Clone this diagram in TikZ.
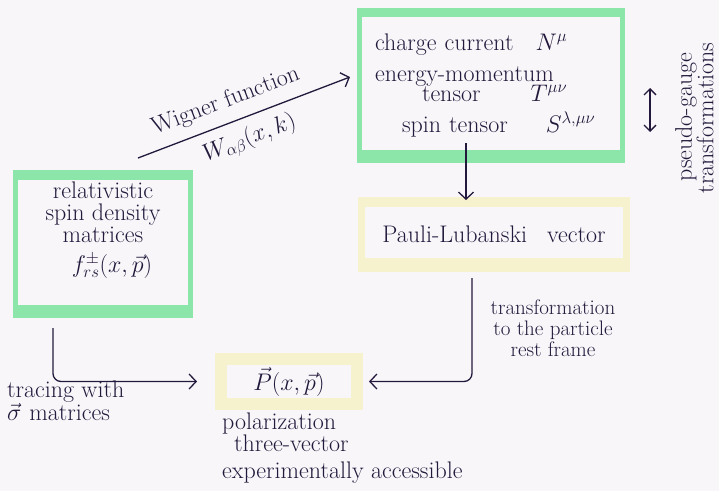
\RequirePackage{fix-cm}
\documentclass[tikz,border=0pt]{standalone}
\usetikzlibrary{arrows.meta}
\definecolor{mgreen}{RGB}{140,230,170}
\definecolor{myellow}{RGB}{245,242,205}
\definecolor{ink}{RGB}{35,25,60}
\definecolor{paper}{RGB}{248,246,249}
\begin{document}
\begin{tikzpicture}[x=1pt,y=-1pt,
  txt/.style={text=ink, inner sep=0pt, font=\fontsize{24}{24}\selectfont},
  smalltxt/.style={text=ink, inner sep=0pt, font=\fontsize{21}{21}\selectfont},
  gbox/.style={txt, draw=mgreen, line width=5pt},
  ybox/.style={txt, draw=myellow},
  arr/.style={draw=ink, line width=1.3pt, rounded corners=8pt,
    -{Straight Barb[length=7pt,width=15pt,line width=1.3pt]}},
  darr/.style={draw=ink, line width=1.3pt,
    {Straight Barb[length=6pt,width=12pt,line width=1.3pt]}-{Straight Barb[length=6pt,width=12pt,line width=1.3pt]}}
]
\fill[paper] (0,0) rectangle (719,491);
\useasboundingbox (0,0) rectangle (719,491);

% left box
\node[gbox, align=center, font=\fontsize{24}{22}\selectfont,
      minimum width=175pt, minimum height=143pt] (rsdbox) at (103,244)
  {relativistic\\spin density\\matrices\\[8pt]\hspace*{18pt}$f^{\pm}_{rs}(x,\vec{p})$\\[6pt]\strut};
\fill[mgreen] (rsdbox.north west) rectangle ([yshift=-10pt]rsdbox.north east);
\fill[mgreen] (rsdbox.south west) rectangle ([yshift=13pt]rsdbox.south east);

% top box
\node[gbox, align=left, text width=232pt,
      minimum width=263pt, minimum height=150pt] (topbox) at (491,85.5)
  {charge current\hspace{22pt}$N^{\mu}$\\[7pt]
   energy-momentum\\[-4pt]
   \hspace*{47pt}tensor\hspace{50pt}$T^{\mu\nu}$\\[7pt]
   \hspace*{27pt}spin tensor\hspace{38pt}$S^{\lambda,\mu\nu}$};
\fill[mgreen] (topbox.north west) rectangle ([yshift=-9pt]topbox.north east);
\fill[mgreen] (topbox.south west) rectangle ([yshift=13pt]topbox.south east);

% Pauli-Lubanski box
\node[ybox, line width=7pt, minimum width=265pt, minimum height=68pt] (plbox) at (494,234.5)
  {\raisebox{-3pt}{Pauli-Lubanski\hspace{20pt}vector}};
\fill[myellow] (plbox.north west) rectangle ([yshift=-10pt]plbox.north east);
\fill[myellow] (plbox.south west) rectangle ([yshift=14pt]plbox.south east);

% polarization box
\node[ybox, line width=12pt, minimum width=136pt, minimum height=45pt] (pbox) at (289,381.5)
  {\raisebox{-4pt}{$\vec{P}(x,\vec{p})$}};

% labels
\node[txt, align=left, anchor=north west, font=\fontsize{24}{22}\selectfont] (pol) at (222,413)
  {polarization\\\hspace*{12pt}three-vector\\[5pt]experimentally accessible};

\node[smalltxt, align=center] (tl) at (553,328) {transformation\\to the particle\\rest frame};

\node[txt, align=left, anchor=north west, font=\fontsize{24}{20}\selectfont] (tr) at (7,381)
  {tracing with\\$\vec{\sigma}$\hspace{8pt}matrices};

\node[txt, rotate=90] (pg1) at (686,117) {pseudo-gauge};
\node[txt, rotate=90] (pg2) at (705,118) {transformations};

% connectors
\coordinate (w1) at (138,158);
\coordinate (w2) at (350,77);
\draw[arr] (w1) -- (w2)
  node[pos=0.45, sloped, above=10pt, txt] (wl1) {Wigner function}
  node[pos=0.49, sloped, below=9pt, txt] (wl2) {$W_{\alpha\beta}(x,k)$};

\draw[arr] ([xshift=-25pt,yshift=20pt]topbox.south) -- ([xshift=-28pt,yshift=-3pt]plbox.north);
\draw[arr] ([xshift=-22pt,yshift=-6pt]plbox.south) |- ([xshift=6pt]pbox.east);
\draw[arr] ([xshift=-50pt,yshift=-10pt]rsdbox.south) |- ([xshift=-18pt]pbox.west);

\coordinate (g1) at (650,88);
\coordinate (g2) at (650,132);
\draw[darr] (g1) -- (g2);
\end{tikzpicture}
\end{document}
